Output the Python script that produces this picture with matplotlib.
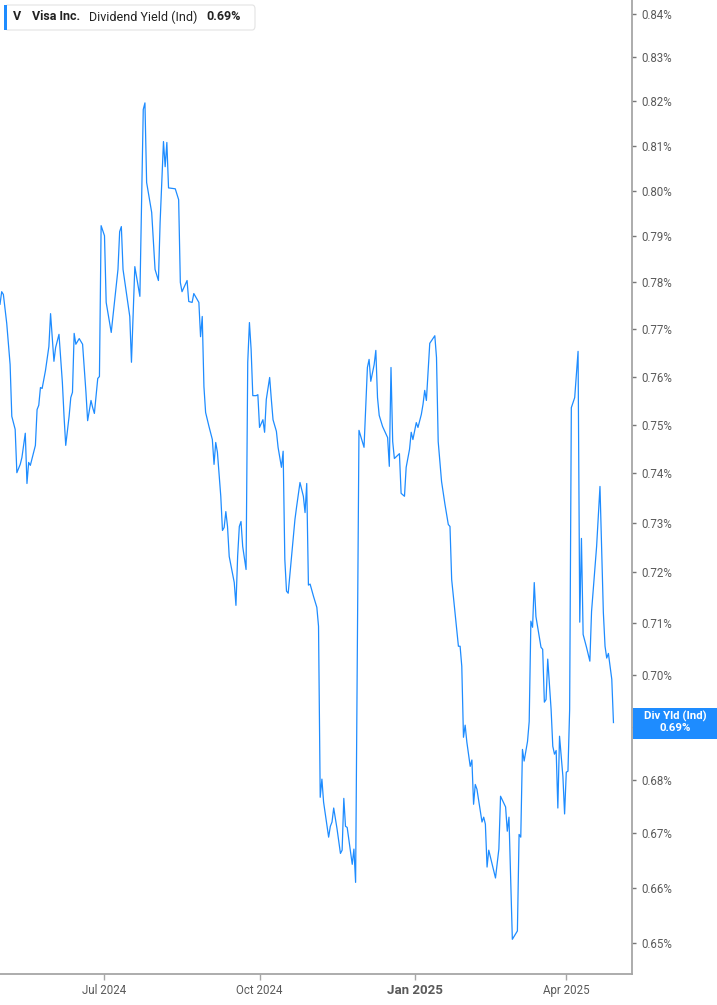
import matplotlib
matplotlib.use("Agg")
import matplotlib.pyplot as plt
import matplotlib.dates as mdates
from matplotlib.ticker import FixedLocator, FuncFormatter, NullLocator
from matplotlib.patches import FancyBboxPatch, Rectangle
import pandas as pd

plt.rcParams['font.family'] = ['Roboto', 'DejaVu Sans']

# Visa dividend yield (%)
dates = [
    "2024-04-30", "2024-05-01", "2024-05-02", "2024-05-04", "2024-05-06", "2024-05-07",
    "2024-05-09", "2024-05-10", "2024-05-12", "2024-05-13", "2024-05-15", "2024-05-16",
    "2024-05-17", "2024-05-18", "2024-05-21", "2024-05-22", "2024-05-23", "2024-05-24",
    "2024-05-25", "2024-05-27", "2024-05-29", "2024-05-30", "2024-06-01", "2024-06-02",
    "2024-06-04", "2024-06-06", "2024-06-07", "2024-06-08", "2024-06-10", "2024-06-11",
    "2024-06-12", "2024-06-13", "2024-06-14", "2024-06-16", "2024-06-17", "2024-06-18",
    "2024-06-20", "2024-06-21", "2024-06-23", "2024-06-24", "2024-06-25", "2024-06-27",
    "2024-06-28",
    "2024-06-29", "2024-07-01", "2024-07-02", "2024-07-05", "2024-07-09", "2024-07-10",
    "2024-07-11", "2024-07-12", "2024-07-16", "2024-07-17", "2024-07-19", "2024-07-22",
    "2024-07-24", "2024-07-25", "2024-07-26", "2024-07-29", "2024-07-31", "2024-08-02",
    "2024-08-03", "2024-08-05", "2024-08-06", "2024-08-07", "2024-08-08", "2024-08-12",
    "2024-08-14", "2024-08-15", "2024-08-16", "2024-08-19", "2024-08-20", "2024-08-22",
    "2024-08-23", "2024-08-26", "2024-08-27", "2024-08-28",
    "2024-08-29", "2024-08-30", "2024-09-01", "2024-09-03", "2024-09-04", "2024-09-05",
    "2024-09-06", "2024-09-08", "2024-09-09", "2024-09-10", "2024-09-11", "2024-09-12",
    "2024-09-13", "2024-09-16", "2024-09-17", "2024-09-18", "2024-09-19", "2024-09-20",
    "2024-09-21", "2024-09-23", "2024-09-24", "2024-09-25", "2024-09-26", "2024-09-27",
    "2024-09-29", "2024-09-30", "2024-10-01", "2024-10-03", "2024-10-04", "2024-10-05",
    "2024-10-07", "2024-10-08", "2024-10-09", "2024-10-11", "2024-10-12", "2024-10-14",
    "2024-10-15", "2024-10-16", "2024-10-17", "2024-10-18", "2024-10-20", "2024-10-22",
    "2024-10-23", "2024-10-25", "2024-10-27", "2024-10-28", "2024-10-29", "2024-10-30",
    "2024-10-31", "2024-11-02", "2024-11-04", "2024-11-05",
    "2024-11-06", "2024-11-07", "2024-11-08", "2024-11-11", "2024-11-12", "2024-11-13",
    "2024-11-14", "2024-11-16", "2024-11-18", "2024-11-19", "2024-11-20", "2024-11-21",
    "2024-11-22", "2024-11-25", "2024-11-26", "2024-11-27",
    "2024-11-29", "2024-12-02", "2024-12-04", "2024-12-05", "2024-12-06", "2024-12-08",
    "2024-12-09", "2024-12-10", "2024-12-11", "2024-12-13", "2024-12-16", "2024-12-17",
    "2024-12-18", "2024-12-19", "2024-12-20", "2024-12-23", "2024-12-24", "2024-12-26",
    "2024-12-27", "2024-12-29", "2024-12-30", "2024-12-31", "2025-01-02", "2025-01-03",
    "2025-01-05", "2025-01-06", "2025-01-07", "2025-01-08", "2025-01-10", "2025-01-13",
    "2025-01-14", "2025-01-15", "2025-01-17", "2025-01-19", "2025-01-21",
    "2025-01-22", "2025-01-23", "2025-01-25", "2025-01-27", "2025-01-28", "2025-01-29",
    "2025-01-30", "2025-01-31", "2025-02-01", "2025-02-03", "2025-02-04", "2025-02-05",
    "2025-02-06", "2025-02-07", "2025-02-10", "2025-02-11", "2025-02-12", "2025-02-13",
    "2025-02-14", "2025-02-18", "2025-02-20", "2025-02-21", "2025-02-24", "2025-02-25",
    "2025-02-26", "2025-02-28", "2025-03-03", "2025-03-04", "2025-03-05", "2025-03-06",
    "2025-03-07", "2025-03-09",
    "2025-03-10", "2025-03-11", "2025-03-12", "2025-03-13", "2025-03-14", "2025-03-17",
    "2025-03-18", "2025-03-19", "2025-03-20", "2025-03-21", "2025-03-23", "2025-03-24",
    "2025-03-25", "2025-03-26", "2025-03-27", "2025-03-28", "2025-03-30", "2025-03-31",
    "2025-04-01", "2025-04-02", "2025-04-03", "2025-04-04", "2025-04-06", "2025-04-08",
    "2025-04-09", "2025-04-10", "2025-04-11", "2025-04-13", "2025-04-15", "2025-04-16",
    "2025-04-19", "2025-04-21", "2025-04-23", "2025-04-24", "2025-04-25", "2025-04-26",
    "2025-04-28", "2025-04-29",
]

yields = [
    0.7753, 0.7780, 0.7774, 0.7712, 0.7625, 0.7517,
    0.7490, 0.7401, 0.7418, 0.7432, 0.7482, 0.7379,
    0.7422, 0.7416, 0.7457, 0.7531, 0.7540, 0.7577,
    0.7575, 0.7613, 0.7663, 0.7733, 0.7632, 0.7661,
    0.7689, 0.7588, 0.7517, 0.7457, 0.7517, 0.7556,
    0.7567, 0.7691, 0.7668, 0.7680, 0.7674, 0.7668,
    0.7567, 0.7508, 0.7550, 0.7535, 0.7523, 0.7596,
    0.7600,
    0.7923, 0.7901, 0.7757, 0.7693, 0.7828, 0.7910,
    0.7921, 0.7828, 0.7727, 0.7630, 0.7834, 0.7770,
    0.8181, 0.8196, 0.8018, 0.7952, 0.7828, 0.7804,
    0.7930, 0.8109, 0.8053, 0.8107, 0.8006, 0.8004,
    0.7980, 0.7800, 0.7780, 0.7804, 0.7759, 0.7757,
    0.7776, 0.7757, 0.7684, 0.7727,
    0.7579, 0.7525, 0.7496, 0.7469, 0.7418, 0.7463,
    0.7443, 0.7353, 0.7284, 0.7290, 0.7322, 0.7292,
    0.7232, 0.7180, 0.7135, 0.7232, 0.7292, 0.7302,
    0.7252, 0.7206, 0.7630, 0.7714, 0.7657, 0.7560,
    0.7560, 0.7562, 0.7494, 0.7510, 0.7484, 0.7552,
    0.7598, 0.7552, 0.7510, 0.7486, 0.7453, 0.7412,
    0.7445, 0.7226, 0.7163, 0.7159, 0.7232, 0.7306,
    0.7332, 0.7381, 0.7353, 0.7320, 0.7379, 0.7175,
    0.7177, 0.7153, 0.7131, 0.7094,
    0.6767, 0.6801, 0.6758, 0.6693, 0.6713, 0.6721,
    0.6747, 0.6708, 0.6663, 0.6669, 0.6765, 0.6713,
    0.6711, 0.6643, 0.6671, 0.6610,
    0.7488, 0.7453, 0.7619, 0.7636, 0.7590, 0.7625,
    0.7655, 0.7556, 0.7519, 0.7496, 0.7473, 0.7414,
    0.7619, 0.7465, 0.7430, 0.7440, 0.7359, 0.7353,
    0.7412, 0.7449, 0.7484, 0.7469, 0.7504, 0.7494,
    0.7521, 0.7542, 0.7571, 0.7550, 0.7670, 0.7686,
    0.7640, 0.7465, 0.7383, 0.7337, 0.7296,
    0.7292, 0.7186, 0.7121, 0.7055, 0.7055, 0.7016,
    0.6880, 0.6903, 0.6871, 0.6825, 0.6837, 0.6754,
    0.6791, 0.6782, 0.6721, 0.6730, 0.6717, 0.6638,
    0.6669, 0.6618, 0.6671, 0.6769, 0.6749, 0.6704,
    0.6730, 0.6507, 0.6522, 0.6698, 0.6693, 0.6857,
    0.6835, 0.6872,
    0.6910, 0.7104, 0.7092, 0.7180, 0.7113, 0.7053,
    0.7049, 0.6947, 0.6952, 0.7030, 0.6933, 0.6863,
    0.6848, 0.6855, 0.6747, 0.6882, 0.6806, 0.6736,
    0.6814, 0.6816, 0.6933, 0.7535, 0.7556, 0.7653,
    0.7102, 0.7268, 0.7078, 0.7053, 0.7026, 0.7123,
    0.7252, 0.7373, 0.7121, 0.7055, 0.7032, 0.7041,
    0.6991, 0.6908,
]

ytick_vals = [0.65, 0.66, 0.67, 0.68, 0.69, 0.70, 0.71, 0.72, 0.73, 0.74,
              0.75, 0.76, 0.77, 0.78, 0.79, 0.80, 0.81, 0.82, 0.83, 0.84]
xtick_dates = ["2024-07-01", "2024-10-01", "2025-01-01", "2025-04-01"]
xtick_labels = ["Jul 2024", "Oct 2024", "Jan 2025", "Apr 2025"]

ticker = "V"
company = "Visa Inc."
metric = "Dividend Yield (Ind)"
short_metric = "Div Yld (Ind)"

blue = "#1e8cff"
grey = "#a6a6a6"
txt = "#5a5a5a"

W, H = 717, 1005
fig = plt.figure(figsize=(W / 100, H / 100), dpi=100)
ax = fig.add_axes([0, 31 / H, 632 / W, 974 / H])

x = pd.to_datetime(dates)
ax.plot(x, yields, color=blue, lw=0.9)

ax.set_yscale("log")
ax.set_ylim(0.6445, 0.8432)
ax.set_xlim(pd.Timestamp("2024-04-30"), pd.Timestamp("2025-05-10"))

ax.yaxis.set_major_locator(FixedLocator(ytick_vals))
ax.yaxis.set_minor_locator(NullLocator())
ax.yaxis.set_major_formatter(FuncFormatter(lambda v, p: f"{v:.2f}%"))
ax.yaxis.tick_right()
ax.tick_params(axis="y", which="major", length=3, width=1, color="#777777",
               labelcolor=txt, labelsize=8.3, pad=4)

ax.xaxis.set_major_locator(FixedLocator(mdates.date2num(pd.to_datetime(xtick_dates))))
ax.set_xticklabels(xtick_labels)
ax.tick_params(axis="x", length=4, width=1, color=grey, labelcolor=txt,
               labelsize=8.3, pad=3)
for lab in ax.get_xticklabels():
    if lab.get_text() == "Jan 2025":
        lab.set_fontweight("bold")
        lab.set_fontsize(9.5)

for s in ["top", "left"]:
    ax.spines[s].set_visible(False)
for s in ["right", "bottom"]:
    ax.spines[s].set_color(grey)
    ax.spines[s].set_linewidth(1.3)

# header legend box
fig.patches.append(FancyBboxPatch((5 / W, 1 - 30 / H), 250 / W, 25 / H,
                                  boxstyle="round,pad=0,rounding_size=0.004",
                                  transform=fig.transFigure, facecolor="white",
                                  edgecolor="#e3e3e3", lw=0.8))
fig.patches.append(Rectangle((4 / W, 1 - 30 / H), 3 / W, 25 / H,
                             transform=fig.transFigure, facecolor=blue, edgecolor="none"))
hy = 1 - 17 / H
fig.text(13 / W, hy, ticker, fontsize=9, fontweight="bold", color="#222222", va="center")
fig.text(32 / W, hy, company, fontsize=9, fontweight="bold", color="#222222", va="center")
fig.text(89 / W, hy, metric, fontsize=9, color="#222222", va="center")
fig.text(206 / W, hy, f"{yields[-1]:.2f}%", fontsize=9, fontweight="bold",
         color="#222222", va="center")

# last value flag on the right axis
last = yields[-1]
fig.canvas.draw()
ypix = ax.transData.transform((mdates.date2num(x[-1]), last))[1]
flag = Rectangle((633 / W, (ypix - 16) / H), (W - 633) / W, 31 / H,
                 transform=fig.transFigure, facecolor=blue, edgecolor="none", zorder=5)
fig.patches.append(flag)
fig.text(675 / W, (ypix + 6) / H, short_metric, fontsize=8.2, fontweight="bold",
         color="white", ha="center", va="center", zorder=6)
fig.text(675 / W, (ypix - 5) / H, f"{last:.2f}%", fontsize=8.2, fontweight="bold",
         color="white", ha="center", va="center", zorder=6)

fig.savefig("out.png", dpi=100)
